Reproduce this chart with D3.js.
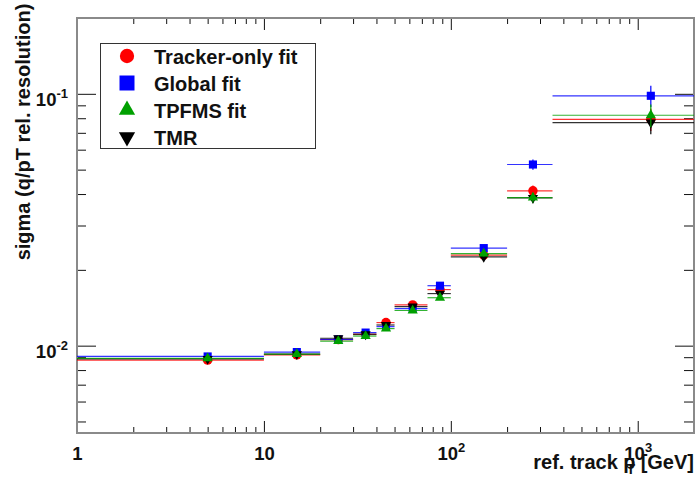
<!DOCTYPE html>
<html>
<head>
<meta charset="utf-8">
<script src="https://cdn.jsdelivr.net/npm/d3@7"></script>
<style>
  body { margin: 0; background: #fff; }
  text { font-family: "Liberation Sans", Arial, sans-serif; font-weight: bold; fill: #111; }
</style>
</head>
<body>
<svg id="chart" width="698" height="487"></svg>
<script>
// pT bins (GeV) and the bin centres where the points sit
var binEdges = [0, 10, 20, 30, 40, 50, 75, 100, 200, 350, 2000];
var binCenters = [5, 15, 25, 35, 45, 62.5, 87.5, 150, 275, 1175];

// sigma(q/pT) relative resolution per fit
var trackerOnly = [0.00876, 0.00919, 0.01057, 0.0111, 0.01235, 0.01452, 0.0167, 0.0229, 0.0412, 0.0792];
var globalFit   = [0.00906, 0.00943, 0.0106, 0.01127, 0.0119, 0.01403, 0.0173, 0.0244, 0.0524, 0.0982];
var tpfmsFit    = [0.00890, 0.00926, 0.01043, 0.01092, 0.01169, 0.01379, 0.0155, 0.0232, 0.0387, 0.0822];
var tmrFit      = [0.00886, 0.00926, 0.0107, 0.0111, 0.01208, 0.01430, 0.0161, 0.0225, 0.0386, 0.0769];

var trackerOnlyErr = [0.0001, 0.0001, 0.00012, 0.00013, 0.00015, 0.0002, 0.0003, 0.0006, 0.002, 0.008];
var globalFitErr   = [0.0001, 0.0001, 0.00012, 0.00013, 0.00015, 0.0002, 0.0003, 0.0007, 0.0025, 0.0095];
var tpfmsFitErr    = [0.0001, 0.0001, 0.00012, 0.00013, 0.00015, 0.0002, 0.0003, 0.0006, 0.0018, 0.0085];
var tmrFitErr      = [0.0001, 0.0001, 0.00012, 0.00013, 0.00015, 0.0002, 0.0003, 0.0007, 0.0018, 0.0078];

var seriesNames = ["Tracker-only fit", "Global fit", "TPFMS fit", "TMR"];

// axis ticks
var xMajor = [1, 10, 100, 1000];
var xMajorLabels = [["1"], ["10"], ["10", "2"], ["10", "3"]];
var xMinor = [2, 3, 4, 5, 6, 7, 8, 9, 20, 30, 40, 50, 60, 70, 80, 90, 200, 300, 400, 500, 600, 700, 800, 900, 2000];
var yMajor = [0.01, 0.1];
var yMajorLabels = [["10", "-2"], ["10", "-1"]];
var yMinor = [0.005, 0.006, 0.007, 0.008, 0.009, 0.02, 0.03, 0.04, 0.05, 0.06, 0.07, 0.08, 0.09, 0.2];

var plotLeft = 77, plotRight = 694, plotTop = 18, plotBottom = 433;

var svg = d3.select("#chart");

var x = d3.scaleLog().domain([1, 2000]).range([plotLeft, plotRight]);
var y = d3.scaleLog().domain([0.0045, 0.2]).range([plotBottom, plotTop]);

svg.append("rect").attr("width", 698).attr("height", 487).attr("fill", "#fff");

svg.append("clipPath").attr("id", "plot")
   .append("rect")
   .attr("x", plotLeft).attr("y", plotTop)
   .attr("width", plotRight - plotLeft).attr("height", plotBottom - plotTop);

// Ticks point inward, ROOT style
function tickAxis(axis, values, size, transform) {
    var g = svg.append("g")
               .attr("transform", transform)
               .call(axis.tickValues(values).tickSizeInner(-size).tickSizeOuter(0).tickFormat(""));
    g.select(".domain").remove();
    g.selectAll("line").attr("stroke", "#111");
    return g;
}

tickAxis(d3.axisBottom(x), xMinor, 6, "translate(0," + plotBottom + ")");
tickAxis(d3.axisTop(x), xMinor, 6, "translate(0," + plotTop + ")");
tickAxis(d3.axisTop(x), xMajor, 12, "translate(0," + plotTop + ")");
tickAxis(d3.axisLeft(y), yMinor, 9, "translate(" + plotLeft + ",0)");
tickAxis(d3.axisRight(y), yMinor, 10, "translate(" + plotRight + ",0)");
tickAxis(d3.axisRight(y), yMajor, 19, "translate(" + plotRight + ",0)");

var xAxis = tickAxis(d3.axisBottom(x).tickPadding(14), xMajor, 12, "translate(0," + plotBottom + ")");
var yAxis = tickAxis(d3.axisLeft(y).tickPadding(9), yMajor, 19, "translate(" + plotLeft + ",0)");

// power-of-ten labels with superscripts
function powerLabels(g, labels, baseDy) {
    g.selectAll(".tick text")
     .attr("fill", "#111")
     .attr("font-size", 18.5)
     .attr("dy", baseDy)
     .text(null)
     .each(function(d, i) {
         var t = d3.select(this);
         t.append("tspan").text(labels[i][0]);
         if (labels[i].length > 1) {
             t.append("tspan").attr("dy", -8).attr("font-size", 13).text(labels[i][1]);
         }
     });
}
powerLabels(xAxis, xMajorLabels, "0.71em");
powerLabels(yAxis, yMajorLabels, "0.62em");

// frame
svg.append("rect")
   .attr("x", plotLeft).attr("y", plotTop)
   .attr("width", plotRight - plotLeft).attr("height", plotBottom - plotTop)
   .attr("fill", "none")
   .attr("stroke", "#8a8a8a")
   .attr("stroke-width", 2);

var series = [
    {name: seriesNames[0], values: trackerOnly, errors: trackerOnlyErr, color: "#ff0000", symbol: d3.symbolCircle, size: 70, legendSize: 160, rotate: 0},
    {name: seriesNames[1], values: globalFit, errors: globalFitErr, color: "#0000ff", symbol: d3.symbolSquare, size: 66, legendSize: 225, rotate: 0},
    {name: seriesNames[2], values: tpfmsFit, errors: tpfmsFitErr, color: "#00a000", symbol: d3.symbolTriangle, size: 45, legendSize: 115, rotate: 0},
    {name: seriesNames[3], values: tmrFit, errors: tmrFitErr, color: "#000000", symbol: d3.symbolTriangle, size: 45, legendSize: 115, rotate: 180}
];

// draw order as in the original canvas: red, blue, black, green
var drawOrder = [0, 1, 3, 2];

var plot = svg.append("g").attr("clip-path", "url(#plot)");

drawOrder.forEach(function(si) {
    var s = series[si];
    var pts = s.values.map(function(v, i) {
        return {lo: Math.max(binEdges[i], 1), hi: binEdges[i + 1], xc: binCenters[i], v: v, e: s.errors[i]};
    });
    var g = plot.append("g");

    g.selectAll(".hbar").data(pts).enter()
     .append("line")
       .attr("x1", d => x(d.lo)).attr("x2", d => x(d.hi))
       .attr("y1", d => y(d.v)).attr("y2", d => y(d.v))
       .attr("stroke", s.color).attr("stroke-width", 1.2).attr("stroke-opacity", 0.8);

    g.selectAll(".vbar").data(pts).enter()
     .append("line")
       .attr("x1", d => x(d.xc)).attr("x2", d => x(d.xc))
       .attr("y1", d => y(d.v - d.e)).attr("y2", d => y(d.v + d.e))
       .attr("stroke", s.color).attr("stroke-width", 1.2);

    g.selectAll(".marker").data(pts).enter()
     .append("path")
       .attr("d", d3.symbol().type(s.symbol).size(s.size))
       .attr("transform", d => "translate(" + x(d.xc) + "," + y(d.v) + ") rotate(" + s.rotate + ")")
       .attr("fill", s.color);
});

// legend
var legend = svg.append("g");
legend.append("rect")
      .attr("x", 100.5).attr("y", 43.5)
      .attr("width", 215).attr("height", 105)
      .attr("fill", "#fff")
      .attr("stroke", "#333")
      .attr("stroke-width", 1);

var rowY = [56, 83, 110, 137];
series.forEach(function(s, i) {
    legend.append("path")
          .attr("d", d3.symbol().type(s.symbol).size(s.legendSize))
          .attr("transform", "translate(127," + rowY[i] + ") rotate(" + s.rotate + ")")
          .attr("fill", s.color);
    legend.append("text")
          .attr("x", 154).attr("y", rowY[i] + 7.5)
          .attr("font-size", 20)
          .text(s.name);
});

// axis titles
var xTitle = svg.append("text")
                .attr("x", plotRight).attr("y", 469)
                .attr("font-size", 20)
                .style("text-anchor", "end");
xTitle.append("tspan").text("ref. track p");
xTitle.append("tspan").attr("dy", 5).attr("dx", -9).attr("font-size", 14).text("T");
xTitle.append("tspan").attr("dy", -5).text(" [GeV]");

svg.append("text")
   .attr("transform", "translate(30,132) rotate(-90)")
   .attr("font-size", 20)
   .style("text-anchor", "middle")
   .text("sigma (q/pT rel. resolution)");
</script>
</body>
</html>
